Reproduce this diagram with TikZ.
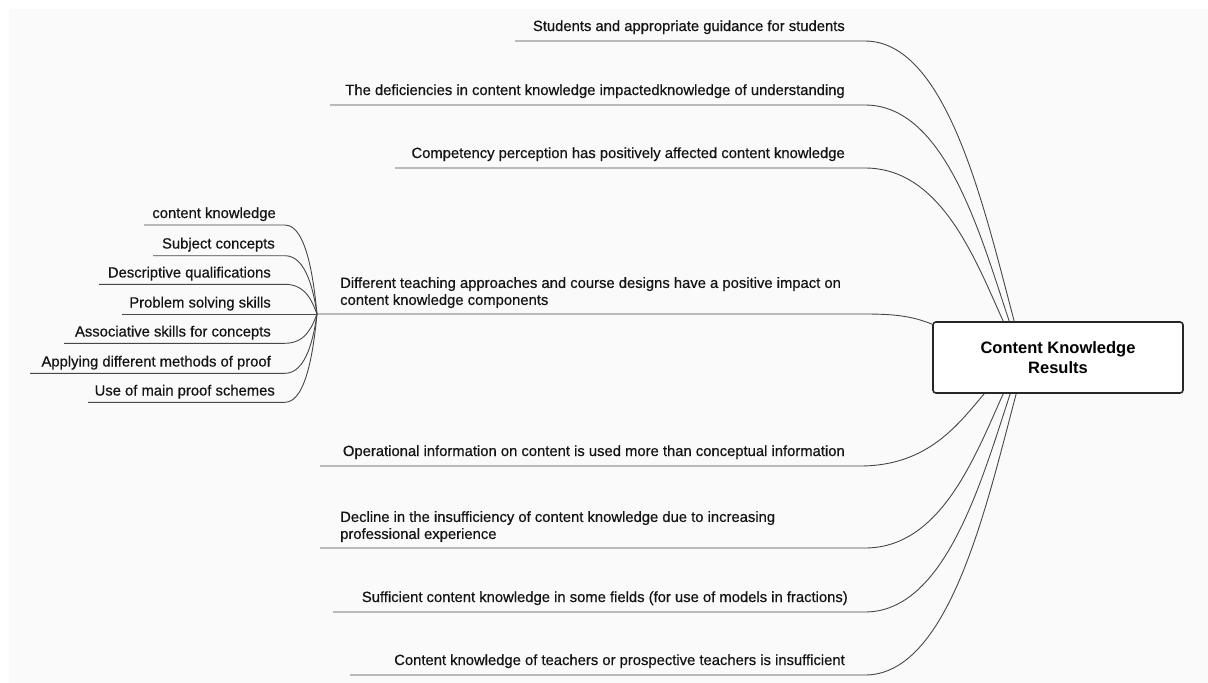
\documentclass[tikz,border=0pt]{standalone}
\usepackage{fontspec}
\setmainfont{Liberation Sans}
\newfontfamily\labelfont[FakeBold=0.5]{Liberation Sans}
\usetikzlibrary{calc}

\begin{document}
\begin{tikzpicture}[x=1pt,y=-1pt,
  lbl/.style={inner sep=0pt, font=\labelfont\fontsize{14.8}{17}\selectfont, text=black!92},
  multi/.style={lbl, align=left, anchor=north west},
  link/.style={draw=black!72, line width=0.9pt},
  rootbox/.style={draw=black!85, fill=white, line width=1.6pt, rounded corners=3pt,
    minimum width=250pt, minimum height=71pt, inner sep=0pt, align=center,
    font=\bfseries\fontsize{16.5}{19.5}\selectfont}
]
\useasboundingbox (0,0) rectangle (1208,683);
\fill[black!2] (9,9) rectangle (1208,683);

% central topic
\node[rootbox] (root) at (1058,357.5) {Content Knowledge\\Results};

% ---------- right-hand topics ----------
\node[lbl, anchor=base east] (b1) at (845,31) {Students and appropriate guidance for students};
\node[lbl, anchor=base east] (b2) at (845,95) {The deficiencies in content knowledge impactedknowledge of understanding};
\node[lbl, anchor=base east] (b3) at (845,158) {Competency perception has positively affected content knowledge};
\node[multi] (b4) at (340,277) {Different teaching approaches and course designs have a positive impact on\\content knowledge components};
\node[lbl, anchor=base east] (b5) at (845,456) {Operational information on content is used more than conceptual information};
\node[multi] (b6) at (340,511) {Decline in the insufficiency of content knowledge due to increasing\\professional experience};
\node[lbl, anchor=base east] (b7) at (848,602) {Sufficient content knowledge in some fields (for use of models in fractions)};
\node[lbl, anchor=base east] (b8) at (845,665) {Content knowledge of teachers or prospective teachers is insufficient};

% underline ends
\coordinate (u1) at (515,41);  \coordinate (v1) at (865,41);
\coordinate (u2) at (330,105); \coordinate (v2) at (865,105);
\coordinate (u3) at (395,168); \coordinate (v3) at (865,168);
\coordinate (junction) at (317,314); \coordinate (v4) at (865,314);
\coordinate (u5) at (320,466); \coordinate (v5) at (860,466);
\coordinate (u6) at (320,548); \coordinate (v6) at (865,548);
\coordinate (u7) at (333,612); \coordinate (v7) at (865,612);
\coordinate (u8) at (350,675); \coordinate (v8) at (865,675);

\draw[link] (u1) -- (v1) .. controls +(82,0) and +(-30,-113) .. ($(root.north west)+(82,0)$);
\draw[link] (u2) -- (v2) .. controls +(80,0) and +(-29,-87) .. ($(root.north west)+(77,0)$);
\draw[link] (u3) -- (v3) .. controls +(76,0) and +(-28,-62) .. ($(root.north west)+(71,0)$);
\draw[link] (junction) -- (v4) .. controls +(35,0) and +(-18,-7) .. ($(root.north west)+(0,3)$);
\draw[link] (u5) -- (v5) .. controls +(69,0) and +(-25,29) .. ($(root.south west)+(52,0)$);
\draw[link] (u6) -- (v6) .. controls +(76,0) and +(-28,62) .. ($(root.south west)+(71,0)$);
\draw[link] (u7) -- (v7) .. controls +(80,0) and +(-29,88) .. ($(root.south west)+(78,0)$);
\draw[link] (u8) -- (v8) .. controls +(84,0) and +(-30,113) .. ($(root.south west)+(84,0)$);

% ---------- components of the fourth topic ----------
\node[lbl, anchor=base east] (s1) at (276,218) {content knowledge};
\node[lbl, anchor=base east] (s2) at (275,248.5) {Subject concepts};
\node[lbl, anchor=base east] (s3) at (271,277.5) {Descriptive qualifications};
\node[lbl, anchor=base east] (s4) at (271,307.5) {Problem solving skills};
\node[lbl, anchor=base east] (s5) at (271,336.5) {Associative skills for concepts};
\node[lbl, anchor=base east] (s6) at (271,366.5) {Applying different methods of proof};
\node[lbl, anchor=base east] (s7) at (275,395.5) {Use of main proof schemes};

\coordinate (p1) at (144,225);   \coordinate (q1) at (285,225);
\coordinate (p2) at (153,255.7); \coordinate (q2) at (285,255.7);
\coordinate (p3) at (99,284.3);  \coordinate (q3) at (285,284.3);
\coordinate (p4) at (122,314);
\coordinate (p5) at (64,343.3);  \coordinate (q5) at (285,343.3);
\coordinate (p6) at (30,373.3);  \coordinate (q6) at (285,373.3);
\coordinate (p7) at (88,402.3);  \coordinate (q7) at (285,402.3);

\draw[link] (p1) -- (q1) .. controls +(22,0) and +(-3,-31) .. (junction);
\draw[link] (p2) -- (q2) .. controls +(22,0) and +(-3,-20) .. (junction);
\draw[link] (p3) -- (q3) .. controls +(22,0) and +(-4,-10) .. (junction);
\draw[link] (p4) -- (junction);
\draw[link] (p5) -- (q5) .. controls +(22,0) and +(-4,10) .. (junction);
\draw[link] (p6) -- (q6) .. controls +(22,0) and +(-3,21) .. (junction);
\draw[link] (p7) -- (q7) .. controls +(22,0) and +(-3,31) .. (junction);
\end{tikzpicture}
\end{document}
